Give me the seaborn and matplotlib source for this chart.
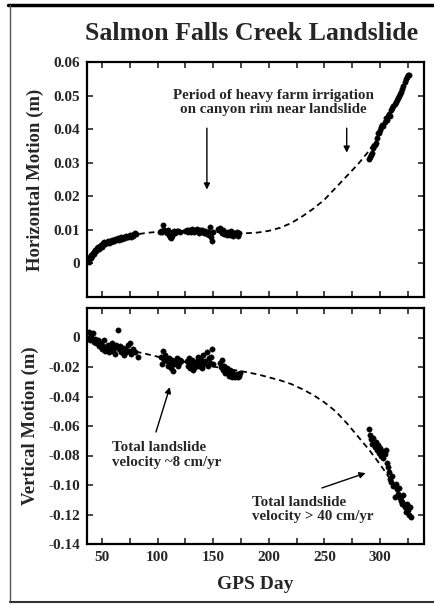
import numpy as np
import pandas as pd
import matplotlib
matplotlib.use('Agg')
import matplotlib.pyplot as plt
from matplotlib.lines import Line2D
import seaborn as sns

# GPS days / horizontal motion (m)
h_day = [38, 38.5, 39, 40, 40.5, 41, 42, 42.5, 43, 44, 45, 45.5, 46, 47, 48, 49, 50, 51, 52, 53,
         54, 55, 56, 57, 58, 59, 60, 61, 62, 63, 64, 65, 66, 67, 68, 69, 70, 71, 72, 73,
         74, 75, 76, 77, 78, 79, 80, 81,
         102, 103, 104, 105, 106, 107, 108, 109, 110, 111, 112, 113, 114, 115, 116, 117, 118, 120,
         125, 126, 127, 128, 129, 130, 131, 132, 133, 134, 135, 136, 137, 138, 139, 140, 141, 142,
         143, 144, 145, 146, 147, 148, 149, 150,
         154, 155, 156, 157, 158, 159, 160, 161, 162, 163, 164, 165, 166, 167, 168, 169, 170, 171,
         172, 173,
         290, 291, 292, 293, 294, 295, 296, 297, 298, 299, 300, 301, 302, 303, 304, 305, 306, 307,
         308, 309, 310, 311, 312, 313, 314, 315, 316, 317, 318, 319, 320, 321, 322, 323, 324, 325, 326]
h_val = [0.0005, 0.0012, 0.0018, 0.0015, 0.0025, 0.0022, 0.003, 0.0035, 0.0028, 0.004, 0.0038, 0.0045,
         0.0048, 0.0042, 0.0052, 0.0055, 0.005, 0.006, 0.0065, 0.0058, 0.0062, 0.0068, 0.006, 0.0066,
         0.0064, 0.0071, 0.0068, 0.0066, 0.0072, 0.007, 0.0075, 0.0069, 0.0074, 0.0078, 0.0073, 0.0077,
         0.008, 0.0076, 0.0082, 0.0079, 0.0081, 0.0084, 0.008, 0.0086, 0.0083, 0.0088, 0.0091, 0.0087,
         0.0095, 0.0098, 0.0093, 0.0114, 0.0101, 0.0097, 0.0092, 0.0099, 0.0085, 0.0078, 0.0076, 0.0082,
         0.0094, 0.0097, 0.0092, 0.0096, 0.0098, 0.0095,
         0.0096, 0.0099, 0.0093, 0.0101, 0.0097, 0.0094, 0.0102, 0.0098, 0.0095, 0.01, 0.0103, 0.0097,
         0.0092, 0.0099, 0.0096, 0.0101, 0.0094, 0.009, 0.0097, 0.0088, 0.0093, 0.0085, 0.0108, 0.0078,
         0.0068, 0.0095,
         0.0104, 0.0099, 0.0105, 0.0096, 0.0092, 0.0101, 0.0088, 0.0095, 0.0086, 0.0093, 0.009, 0.0084,
         0.0097, 0.0089, 0.0082, 0.0092, 0.0087, 0.0094, 0.0083, 0.009,
         0.031, 0.0318, 0.0322, 0.033, 0.0345, 0.0352, 0.036, 0.0375, 0.039, 0.0388, 0.0398, 0.0405,
         0.0412, 0.0408, 0.042, 0.0432, 0.0428, 0.0438, 0.0445, 0.044, 0.0457, 0.0462, 0.0468, 0.0475,
         0.0482, 0.0487, 0.0492, 0.0498, 0.0505, 0.0512, 0.052, 0.053, 0.054, 0.0548, 0.0555, 0.056, 0.0562]

# GPS days / vertical motion (m)
v_day = [38, 38.5, 39, 40, 41, 42, 43, 44, 45, 46, 47, 48, 49, 50, 51, 52, 53, 54, 55, 56,
         57, 58, 59, 60, 61, 62, 63, 64, 65, 66, 67, 68, 69, 70, 71, 72, 73, 74, 75, 76, 78, 80, 82,
         103, 104, 105, 106, 107, 108, 109, 110, 111, 112, 113, 114, 115, 116, 117, 118, 119, 120, 121,
         126, 127, 128, 129, 130, 131, 132, 133, 134, 135, 136, 137, 138, 139, 140, 141, 142, 143,
         144, 145, 146, 147, 148, 149, 150,
         156, 157, 158, 159, 160, 161, 162, 163, 164, 165, 166, 167, 168, 169, 170, 171, 172, 173, 174,
         290, 291, 292, 293, 294, 295, 296, 297, 298, 299, 300, 301, 302, 303, 304, 305, 306, 307,
         308, 309, 310, 311, 312, 313, 314, 315, 316, 317, 318, 319, 320, 321, 322, 323, 324, 325,
         326, 327, 328]
v_val = [0.004, 0.0, -0.002, 0.002, -0.001, 0.003, -0.003, -0.001, -0.004, -0.002, -0.006, -0.005,
         -0.003, -0.008, -0.006, -0.002, -0.009, -0.007, -0.005, -0.01, -0.008, -0.006, -0.004, -0.009,
         -0.007, -0.011, -0.005, 0.005, -0.008, -0.006, -0.01, -0.009, -0.007, -0.012, -0.008, -0.01,
         -0.005, -0.009, -0.004, -0.011, -0.008, -0.01, -0.013,
         -0.013, -0.018, -0.009, -0.015, -0.012, -0.016, -0.019, -0.014, -0.017, -0.021, -0.015, -0.023,
         -0.018, -0.016, -0.014, -0.019, -0.017, -0.015, -0.016,
         -0.016, -0.019, -0.014, -0.021, -0.017, -0.015, -0.022, -0.018, -0.02, -0.016, -0.013, -0.019,
         -0.017, -0.015, -0.021, -0.012, -0.018, -0.016, -0.01, -0.019, -0.014, -0.017, -0.013, -0.008,
         -0.018,
         -0.017, -0.02, -0.015, -0.022, -0.019, -0.024, -0.021, -0.023, -0.026, -0.022, -0.025, -0.027,
         -0.024, -0.026, -0.027, -0.025, -0.027, -0.026, -0.024,
         -0.062, -0.066, -0.069, -0.072, -0.068, -0.074, -0.071, -0.076, -0.073, -0.078, -0.075, -0.08,
         -0.077, -0.082, -0.079, -0.076, -0.085, -0.088, -0.091, -0.096, -0.098, -0.094, -0.101, -0.108,
         -0.099, -0.103, -0.106, -0.102, -0.109, -0.111, -0.113, -0.107, -0.115, -0.118, -0.113, -0.117,
         -0.12, -0.115, -0.122]

# fitted trend curves
fit_day = [38, 50, 60, 70, 80, 90, 100, 110, 120, 130, 140, 150, 160, 170, 180, 190, 200, 210,
           220, 230, 240, 250, 260, 270, 280, 290, 300, 310, 320, 327]
h_fit = [0.001, 0.0052, 0.0068, 0.0078, 0.0086, 0.0091, 0.0094, 0.0096, 0.0097, 0.0097, 0.0096,
         0.0094, 0.0092, 0.009, 0.009, 0.0092, 0.0097, 0.0106, 0.012, 0.014, 0.0163, 0.019, 0.0225,
         0.026, 0.0295, 0.0335, 0.039, 0.045, 0.0515, 0.056]
v_fit = [-0.001, -0.004, -0.006, -0.008, -0.0095, -0.0112, -0.013, -0.0145, -0.016, -0.0172,
         -0.0185, -0.0197, -0.021, -0.0222, -0.0235, -0.025, -0.027, -0.029, -0.0315, -0.035, -0.039,
         -0.044, -0.05, -0.058, -0.067, -0.076, -0.086, -0.097, -0.109, -0.118]

x_ticks = [50, 75, 100, 125, 150, 175, 200, 225, 250, 275, 300, 325]
x_labels = ['50', '', '100', '', '150', '', '200', '', '250', '', '300', '']
h_ticks = [0, 0.01, 0.02, 0.03, 0.04, 0.05, 0.06]
h_labels = ['0', '0.01', '0.02', '0.03', '0.04', '0.05', '0.06']
v_ticks = [0, -0.02, -0.04, -0.06, -0.08, -0.10, -0.12, -0.14]
v_labels = ['0', '-0.02', '-0.04', '-0.06', '-0.08', '-0.10', '-0.12', '-0.14']

sns.set_style('ticks')
plt.rcParams['font.family'] = ['Liberation Serif', 'DejaVu Serif']
plt.rcParams['font.weight'] = 'bold'
plt.rcParams['axes.labelweight'] = 'bold'

df_h = pd.DataFrame({'day': h_day, 'val': h_val})
df_v = pd.DataFrame({'day': v_day, 'val': v_val})
df_fit = pd.DataFrame({'day': fit_day, 'h': h_fit, 'v': v_fit})

fig = plt.figure(figsize=(4.34, 6.04), dpi=100)
ax1 = fig.add_axes([87/434, 1 - 297/604, 337/434, 235/604])
ax2 = fig.add_axes([87/434, 1 - 544/604, 337/434, 236/604])

for ax, df, col in [(ax1, df_h, 'h'), (ax2, df_v, 'v')]:
    sns.lineplot(data=df_fit, x='day', y=col, ax=ax, color='black', lw=1.3,
                 dashes=False, linestyle=(0, (3.2, 2.2)))
    sns.scatterplot(data=df, x='day', y='val', ax=ax, color='black', s=15,
                    edgecolor='black', linewidth=0.3, zorder=3)
    ax.set_xlim(36.5, 339.5)
    ax.set_xticks(x_ticks)
    ax.tick_params(direction='in', length=4, width=1.2, top=True, right=True,
                   labelsize=11, pad=5)
    for s in ax.spines.values():
        s.set_linewidth(1.6)
        s.set_color('black')

ax1.set_ylim(-0.01, 0.06)
ax1.set_yticks(h_ticks)
ax1.set_yticklabels(h_labels)
ax1.set_xticklabels([])
ax1.set_xlabel('')
ax1.set_ylabel('Horizontal Motion (m)', fontsize=13.5, labelpad=7)

ax2.set_ylim(-0.14, 0.02)
ax2.set_yticks(v_ticks)
ax2.set_yticklabels(v_labels)
ax2.set_xticklabels(x_labels)
ax2.set_xlabel('GPS Day', fontsize=14, labelpad=9)
ax2.set_ylabel('Vertical Motion (m)', fontsize=13.5, labelpad=7)

arrow = dict(arrowstyle='-|>', color='black', lw=1.0, mutation_scale=9, shrinkA=0, shrinkB=0)

ax1.text(204, 0.048, 'Period of heavy farm irrigation\non canyon rim near landslide',
         ha='center', va='center', fontsize=10.8, linespacing=1.15)
ax1.annotate('', xy=(144.3, 0.022), xytext=(144.3, 0.0403), arrowprops=arrow)
ax1.annotate('', xy=(270, 0.033), xytext=(270, 0.0403), arrowprops=arrow)

ax2.text(59, -0.0797, 'Total landslide\nvelocity ~8 cm/yr', ha='left', va='center',
         fontsize=10.8, linespacing=1.15)
ax2.annotate('', xy=(111, -0.0336), xytext=(98.5, -0.0641), arrowprops=arrow)
ax2.text(185, -0.1166, 'Total landslide\nvelocity > 40 cm/yr', ha='left', va='center',
         fontsize=10.8, linespacing=1.15)
ax2.annotate('', xy=(287, -0.0919), xytext=(247.7, -0.102), arrowprops=arrow)

fig.text(252/434, 1 - 33/604, 'Salmon Falls Creek Landslide', ha='center', va='center',
         fontsize=18.6, fontweight='bold')

# frame around the figure
fig.add_artist(Line2D([8/434, 1], [1 - 4.5/604, 1 - 4.5/604], color='black', lw=2.5))
fig.add_artist(Line2D([9.5/434, 9.5/434], [1 - 4.5/604, 1 - 602/604], color='#555555', lw=1))
fig.add_artist(Line2D([9.5/434, 1], [1 - 602/604, 1 - 602/604], color='#333333', lw=1.5))

fig.savefig('out.png', dpi=100)
